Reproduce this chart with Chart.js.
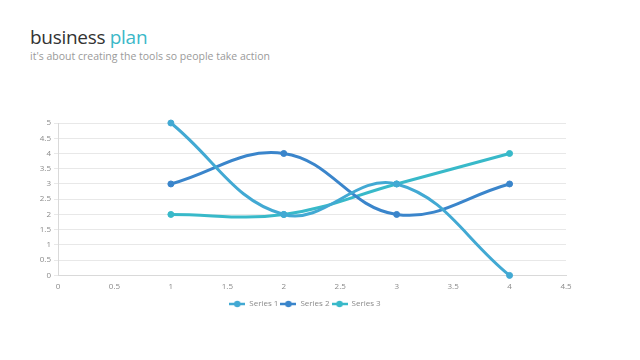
<!DOCTYPE html>
<html>
<head>
<meta charset="utf-8">
<script src="https://cdn.jsdelivr.net/npm/chart.js@4"></script>
<style>
  html, body { margin: 0; padding: 0; background: #fff; }
  body { width: 640px; height: 360px; position: relative; overflow: hidden; font-family: "Open Sans", sans-serif; }
  #title { position: absolute; left: 30px; top: 24px; font-size: 19px; color: #333; white-space: nowrap; letter-spacing: -0.3px; }
  #title span { color: #3bb8c8; }
  #subtitle { position: absolute; left: 30px; top: 49px; font-size: 10.5px; color: #9a9a9a; white-space: nowrap; }
  #wrap { position: absolute; left: 0; top: 0; width: 640px; height: 360px; }
</style>
</head>
<body>
<div id="title">business <span>plan</span></div>
<div id="subtitle">it's about creating the tools so people take action</div>
<div id="wrap"><canvas id="c" width="640" height="360"></canvas></div>
<script>
const xValues = [1, 2, 3, 4];
const seriesNames = ["Series 1", "Series 2", "Series 3"];
const series1 = [5, 2, 3, 0];
const series2 = [3, 4, 2, 3];
const series3 = [2, 2, 3, 4];
const xTicks = [0, 0.5, 1, 1.5, 2, 2.5, 3, 3.5, 4, 4.5];
const yTicks = [0, 0.5, 1, 1.5, 2, 2.5, 3, 3.5, 4, 4.5, 5];

const colors = ["#42a9d3", "#3a85cb", "#38b9c9"];
const allSeries = [series1, series2, series3];

function legendIcon(color) {
  const cv = document.createElement('canvas');
  cv.width = 16; cv.height = 8;
  const g = cv.getContext('2d');
  g.strokeStyle = color; g.lineWidth = 2.5;
  g.beginPath(); g.moveTo(0, 4); g.lineTo(16, 4); g.stroke();
  g.fillStyle = color;
  g.beginPath(); g.arc(8, 4, 3.2, 0, Math.PI * 2); g.fill();
  return cv;
}
const icons = colors.map(legendIcon);

const datasets = allSeries.map((vals, i) => ({
  label: seriesNames[i],
  data: xValues.map((x, j) => ({ x: x, y: vals[j] })),
  borderColor: colors[i],
  backgroundColor: colors[i],
  borderWidth: 3,
  pointRadius: 3,
  pointBorderWidth: 1,
  pointBackgroundColor: colors[i],
  pointBorderColor: colors[i],
  tension: 0.4,
  fill: false,
  clip: false
}));

const shiftLegend = {
  id: 'shiftLegend',
  afterLayout(chart) {
    const lg = chart.legend;
    if (lg) { lg.left += 22; lg.right += 22; }
  }
};

new Chart(document.getElementById('c'), {
  type: 'line',
  data: { datasets },
  plugins: [shiftLegend],
  options: {
    responsive: false,
    animation: false,
    layout: { padding: { left: 0, right: 74, top: 123, bottom: 42 } },
    plugins: {
      legend: {
        position: 'bottom',
        labels: {
          usePointStyle: true,
          pointStyleWidth: 16,
          boxHeight: 8,
          padding: 2,
          color: '#8a8a8a',
          font: { family: 'Open Sans', size: 8 },
          generateLabels: (chart) => chart.data.datasets.map((ds, i) => ({
            text: ds.label,
            fillStyle: colors[i],
            strokeStyle: colors[i],
            pointStyle: icons[i],
            fontColor: '#8a8a8a',
            lineWidth: 0,
            datasetIndex: i,
            hidden: false
          }))
        }
      },
      tooltip: { enabled: false }
    },
    scales: {
      x: {
        type: 'linear',
        min: 0, max: 4.5,
        afterBuildTicks: (s) => { s.ticks = xTicks.map(v => ({ value: v })); },
        afterFit: (s) => { s.height += 3; },
        grid: { display: false, drawTicks: true, tickLength: 4, color: '#d9d9d9' },
        border: { color: '#d9d9d9' },
        ticks: { color: '#8a8a8a', font: { family: 'Open Sans', size: 8 }, padding: 3, maxRotation: 0,
                 callback: (v) => String(v) }
      },
      y: {
        min: 0, max: 5,
        afterBuildTicks: (s) => { s.ticks = yTicks.map(v => ({ value: v })); },
        afterFit: (s) => { s.width = 58; },
        grid: { color: '#e8e8e8', tickLength: 4 },
        border: { color: '#d9d9d9' },
        ticks: { color: '#8a8a8a', font: { family: 'Open Sans', size: 8 }, padding: 3,
                 callback: (v) => String(v) }
      }
    }
  }
});
</script>
</body>
</html>
